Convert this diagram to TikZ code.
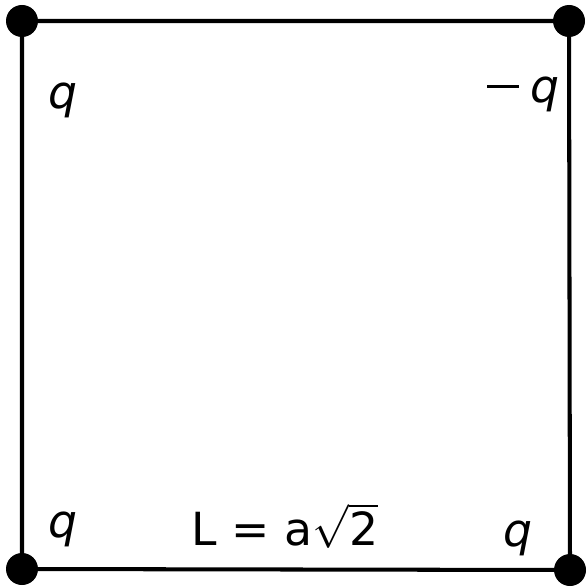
\documentclass[tikz,border=0pt]{standalone}
\usepackage{fontspec}
\setmainfont{DejaVu Sans}
\begin{document}
\begin{tikzpicture}[x=0.02cm,y=-0.02cm,
  side/.style={line width=2.3pt},
  charge/.style={inner sep=0pt,font=\fontsize{26}{30}\selectfont}]
  \useasboundingbox (0,0) rectangle (587,587);
  % Coordinates
  \coordinate (A) at (22,21);
  \coordinate (B) at (569,21);
  \coordinate (C) at (22,569);
  \coordinate (D) at (570,570);

  % Drawing
  \draw[side] (A) -- (B) -- (D) -- (C) -- cycle;
  \foreach \p in {A,B,C,D}
    \fill (\p) circle (0.32cm);
  \node[charge] (qA) at (63,100) {\textit{q}};
  \node[charge] (qB) at (523,94) {\raisebox{0.3em}{\rule{0.64cm}{0.06cm}}\hspace{0.22cm}\textit{q}};
  \node[charge] (qC) at (63,529) {\textit{q}};
  \node[charge] (qD) at (518,538) {\textit{q}};
  \node[charge] (len) at (285,526) {L = a$\sqrt{\hbox{2}}$};
\end{tikzpicture}
\end{document}
